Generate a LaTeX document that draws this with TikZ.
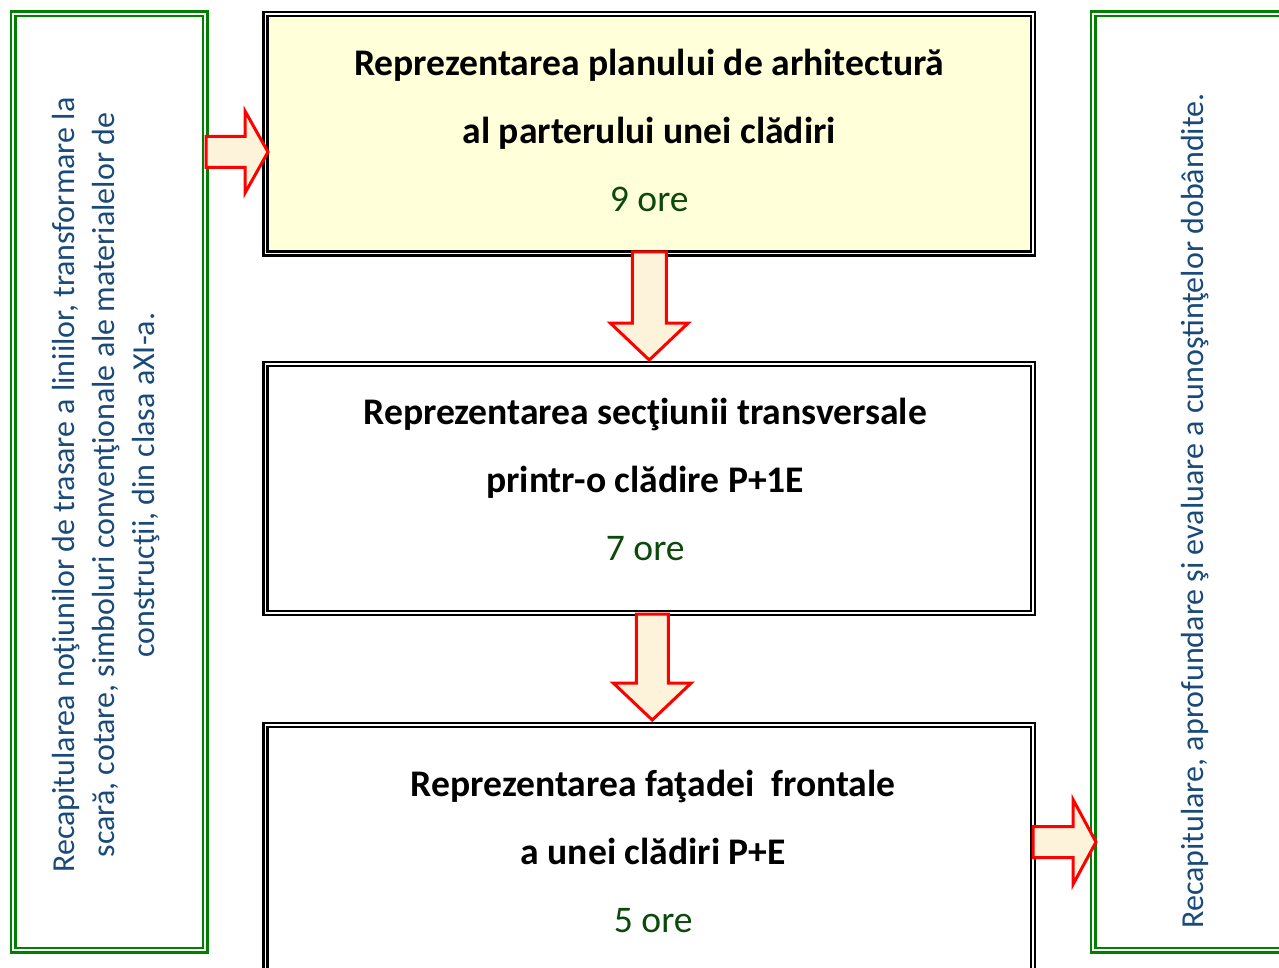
\documentclass[tikz,border=0pt]{standalone}
\usepackage{fontspec}
\setmainfont{Carlito}
\usetikzlibrary{positioning,calc}
\definecolor{frameGreen}{HTML}{008000}
\definecolor{recapBlue}{HTML}{1A4A7A}
\definecolor{oreGreen}{HTML}{0B4A0B}
\definecolor{boxYellow}{HTML}{FFFFD9}
\definecolor{arrowCream}{HTML}{FDF2DA}
\newcommand{\ore}[1]{{\mdseries\color{oreGreen}#1 ore}}

\tikzset{pics/blockarrow/.style n args={4}{code={
  \draw[draw=red,fill=arrowCream,line width=3pt,line join=miter]
    (0,-#2) -- (#1,-#2) -- (#1,-#4) -- (#1+#3,0) -- (#1,#4) -- (#1,#2) -- (0,#2) -- cycle;}}}

\begin{document}
\begin{tikzpicture}[x=1pt,y=1pt,
        topic/.style={draw=black,double=white,line width=2.3pt,double distance=1.6pt,
                      outer sep=0pt,fill=white,minimum width=767.5pt},
        recap/.style={draw=frameGreen,double=white,line width=2.5pt,double distance=2pt,
                      outer sep=0pt,fill=white,minimum height=936pt},
        topictext/.style={font=\fontsize{37.6}{68}\selectfont\bfseries,align=center},
        recaptext/.style={font=\fontsize{32}{40}\selectfont,text=recapBlue,align=center,rotate=90}]
  \useasboundingbox (0,0) rectangle (1279,-968);
  \clip (0,0) rectangle (1279,-968);

  % side frames
  \node[recap,minimum width=192pt] (recapL) at (109,-482) {};
  \node[recap,minimum width=217pt] (recapR) at (1201.5,-482) {};
  \node[recaptext] (nL) at (106,-485)
    {Recapitularea noţiunilor de trasare a liniilor, transformare la\\
     scară, cotare, simboluri convenţionale ale materialelor de\\
     construcţii, din clasa aXI-a.};
  \node[recaptext] (nR) at (1195,-511)
    {Recapitulare, aprofundare şi evaluare a cunoştinţelor dobândite.};

  % the three topics
  \node[topic,fill=boxYellow,minimum height=239.5pt] (b1) at (649.25,-133.75) {};
  \node[topic,minimum height=249pt] (b2) at (649.25,-488.5) {};
  \node[topic,minimum height=260pt] (b3) at (649.25,-855) {};
  \node[topictext] (t1) at ($(b1)+(0,3.25)$)
    {Reprezentarea planului de arhitectură\\al parterului unei clădiri\\\ore{9}};
  \node[topictext] (t2) at ($(b2)+(-4,9)$)
    {Reprezentarea secţiunii transversale\\printr-o clădire P+1E\\\ore{7}};
  \node[topictext] (t3) at ($(b3)+(4,3.5)$)
    {Reprezentarea faţadei\ \ frontale\\a unei clădiri P+E\\\ore{5}};

  % block arrows
  \pic at ($(recapL.north east)+(1,-138)$) {blockarrow={39}{15.5}{23}{41}};
  \pic[rotate=-90] at ($(b1.south)+(0,1.5)$) {blockarrow={71}{17}{37}{39}};
  \pic[rotate=-90] at ($(b2.south)+(3,-1)$) {blockarrow={69}{16}{37}{39}};
  \pic at ($(b3.north east)+(0,-117)$) {blockarrow={40}{15.5}{23}{42.5}};
\end{tikzpicture}
\end{document}
